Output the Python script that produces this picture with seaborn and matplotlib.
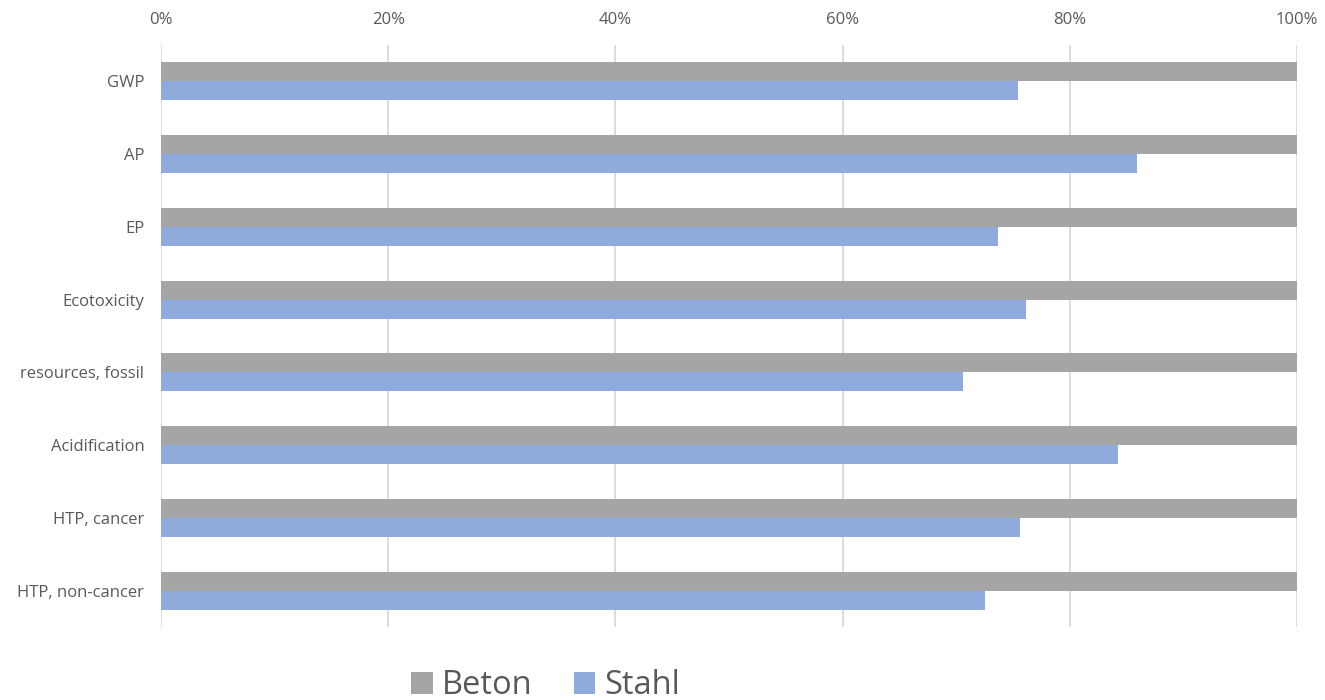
import matplotlib
matplotlib.use("Agg")
import matplotlib.pyplot as plt
import seaborn as sns
import pandas as pd
from matplotlib.ticker import PercentFormatter
from matplotlib.patches import Patch

categories = ["GWP", "AP", "EP", "Ecotoxicity", "resources, fossil",
              "Acidification", "HTP, cancer", "HTP, non-cancer"]
beton = [100, 100, 100, 100, 100, 100, 100, 100]
stahl = [75.4, 85.9, 73.7, 76.1, 70.6, 84.2, 75.6, 72.5]
series = ["Beton", "Stahl"]
colors = ["#A5A5A5", "#8FAADC"]
xticks = [0, 20, 40, 60, 80, 100]

df = pd.DataFrame({
    "Kategorie": categories * 2,
    "Wert": beton + stahl,
    "Material": ["Beton"] * len(categories) + ["Stahl"] * len(categories),
})

sns.set_theme(style="white")
plt.rcParams["font.family"] = ["Open Sans", "DejaVu Sans"]

fig = plt.figure(figsize=(13.25, 7), dpi=100)
ax = fig.add_axes([0.1215, 0.1043, 0.8575, 0.8314])

sns.barplot(data=df, y="Kategorie", x="Wert", hue="Material", order=categories,
            hue_order=series, palette=colors, width=0.52, orient="h",
            ax=ax, legend=False, saturation=1, linewidth=0)

ax.set_xlim(0, 100)
ax.set_ylim(len(categories) - 0.5, -0.5)
ax.set_xticks(xticks)
ax.xaxis.set_major_formatter(PercentFormatter(decimals=0))
ax.xaxis.tick_top()
ax.grid(axis="x", color="#D9D9D9", linewidth=1.3)
ax.set_axisbelow(True)
for s in ax.spines.values():
    s.set_visible(False)
ax.set_xlabel("")
ax.set_ylabel("")
ax.tick_params(axis="both", length=0, labelsize=12, colors="#595959")
ax.tick_params(axis="y", pad=12)
ax.tick_params(axis="x", pad=12)

handles = [Patch(facecolor=c, edgecolor="none", label=s) for s, c in zip(series, colors)]
fig.legend(handles=handles, loc="center", bbox_to_anchor=(0.412, 0.02),
           ncol=2, frameon=False, fontsize=23.5, labelcolor="#595959",
           handlelength=0.65, handleheight=0.65, handletextpad=0.3, columnspacing=1.25)

fig.savefig("out.png", dpi=100)
